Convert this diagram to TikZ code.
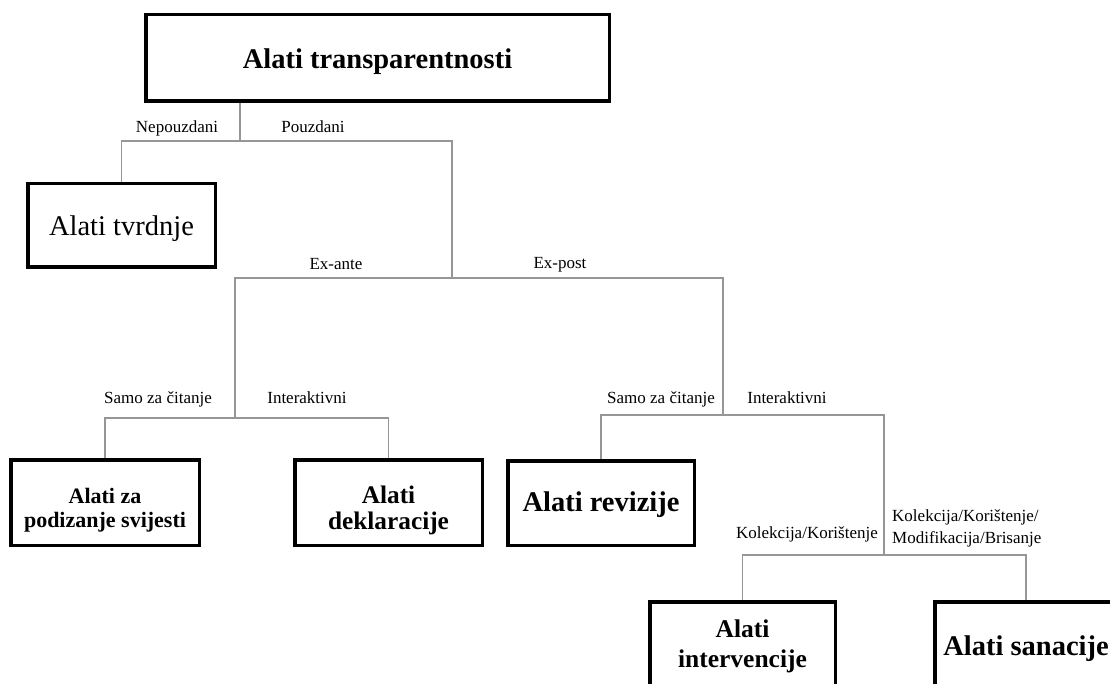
\documentclass[tikz,border=0pt]{standalone}
\usepackage{fontspec}
\setmainfont{Liberation Serif}
\usetikzlibrary{backgrounds}
\definecolor{linegray}{RGB}{150,150,150}
\begin{document}
\begin{tikzpicture}[x=1pt,y=-1pt,
  box/.style={draw=black, line width=3.5pt, fill=white, inner sep=0pt, align=center, text depth=3pt},
  conn/.style={draw=linegray, line width=1.3pt},
  lbl/.style={font=\fontsize{17}{22}\selectfont, inner sep=0pt, text height=12pt, text depth=4pt}]
\useasboundingbox (0,0) rectangle (1110,684);
\clip (0,0) rectangle (1110,684);

% boxes
\node[box, minimum width=463.5pt, minimum height=86.5pt, text height=25pt, font=\bfseries\fontsize{28.5}{34}\selectfont] (top) at (377.5,58) {Alati transparentnosti};
\node[box, minimum width=187.5pt, minimum height=83.5pt, text height=23.4pt, font=\fontsize{28.5}{34}\selectfont] (tvrdnje) at (121.5,225.5) {Alati tvrdnje};
\node[box, minimum width=188.5pt, minimum height=85.5pt, text height=52pt, font=\bfseries\fontsize{22}{23.5}\selectfont] (svijest) at (105,502.5) {Alati za\\podizanje svijesti};
\node[box, minimum width=187.5pt, minimum height=85.5pt, text height=56pt, font=\bfseries\fontsize{25.3}{25.5}\selectfont] (deklar) at (388.5,502.5) {Alati\\deklaracije};
\node[box, minimum width=186.5pt, minimum height=84.5pt, text height=19pt, font=\bfseries\fontsize{28.5}{34}\selectfont] (revizije) at (601,503) {Alati revizije};
\node[box, minimum width=185.5pt, minimum height=84.5pt, text height=49pt, font=\bfseries\fontsize{25.5}{30}\selectfont] (interv) at (742.5,644) {Alati\\intervencije};
\node[box, minimum width=182.5pt, minimum height=84.5pt, text height=25pt, font=\bfseries\fontsize{28.5}{34}\selectfont] (sanac) at (1026,644) {Alati sanacije};

% junctions
\coordinate (j0) at (240,141);
\coordinate (j1) at (452,278);
\coordinate (j2) at (235,418);
\coordinate (j3) at (723,415);
\coordinate (j4) at (884,555);

\begin{scope}[on background layer]
\fill[white] (0,0) rectangle (1110,684);
\draw[conn] (top.south -| j0) -- (j0);
\draw[conn] (tvrdnje.north) |- (j0) -| (j1);
\draw[conn] (j2) |- (j1) -| (j3);
\draw[conn] (svijest.north) |- (j2) -| (deklar.north);
\draw[conn] (revizije.north) |- (j3) -| (j4);
\draw[conn] (interv.north) |- (j4) -| (sanac.north);
\end{scope}

% labels
\node[lbl] (lnep) at (177,129) {Nepouzdani};
\node[lbl] (lpou) at (313,129) {Pouzdani};
\node[lbl] (lante) at (336,266) {Ex-ante};
\node[lbl] (lpost) at (560,265) {Ex-post};
\node[lbl] (lsamo1) at (158,399) {Samo za čitanje};
\node[lbl] (lint1) at (307,399) {Interaktivni};
\node[lbl] (lsamo2) at (661,399) {Samo za čitanje};
\node[lbl] (lint2) at (787,399) {Interaktivni};
\node[lbl] (lkol) at (807,534) {Kolekcija/Korištenje};
\node[font=\fontsize{17}{22}\selectfont, inner sep=0pt, anchor=west, align=left] (lkol2) at (892,528) {Kolekcija/Korištenje/\\Modifikacija/Brisanje};
\end{tikzpicture}
\end{document}
